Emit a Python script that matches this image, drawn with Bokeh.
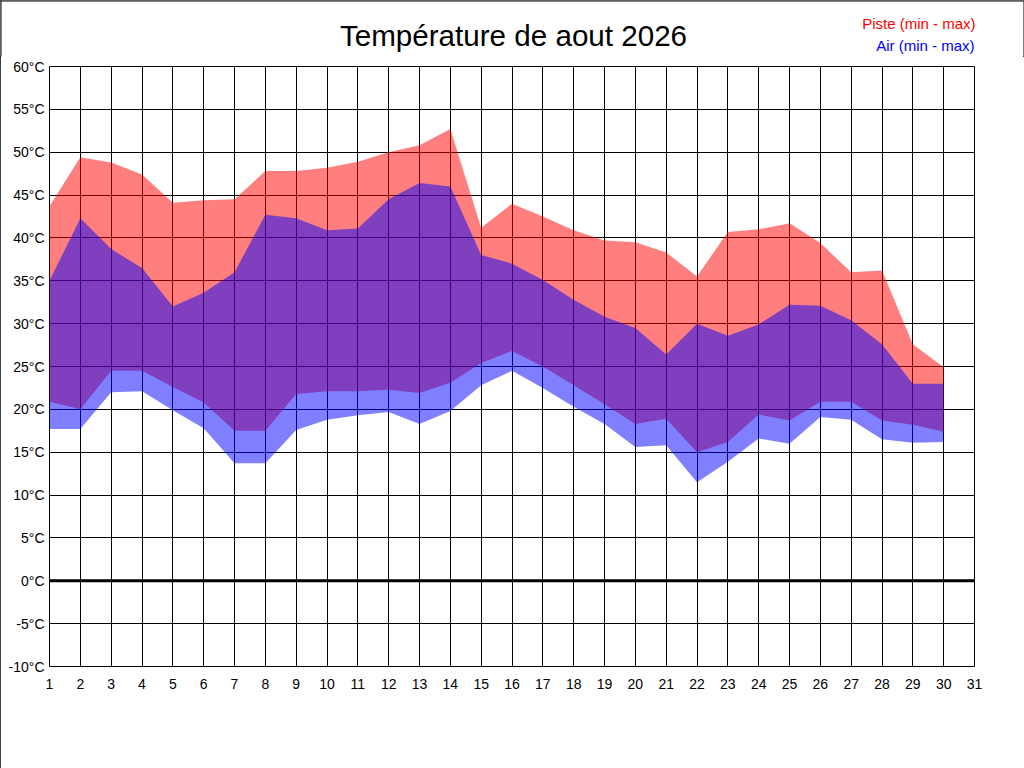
from bokeh.plotting import figure
from bokeh.models import Range1d, FixedTicker, Span
from bokeh.layouts import column
from bokeh.core.properties import value
from bokeh.embed import file_html
from bokeh.resources import INLINE

days = list(range(1, 31))
piste_max = [43.7, 49.4, 48.8, 47.4, 44.1, 44.4, 44.5, 47.8, 47.8, 48.2,
             48.9, 50.0, 50.8, 52.7, 41.2, 44.0, 42.5, 40.9, 39.7, 39.5,
             38.3, 35.5, 40.7, 41.0, 41.7, 39.4, 36.0, 36.2, 27.6, 24.9]
piste_min = [20.9, 20.0, 24.5, 24.5, 22.6, 20.8, 17.5, 17.5, 21.8, 22.1,
             22.1, 22.3, 21.9, 23.1, 25.4, 26.8, 25.0, 22.8, 20.6, 18.3,
             18.9, 15.0, 16.2, 19.4, 18.7, 20.9, 20.9, 18.7, 18.2, 17.4]
air_max = [35.0, 42.3, 38.7, 36.5, 32.0, 33.6, 36.0, 42.7, 42.3, 40.9,
           41.1, 44.5, 46.4, 46.0, 38.0, 37.0, 35.1, 32.8, 30.8, 29.5,
           26.4, 30.0, 28.6, 29.9, 32.2, 32.1, 30.4, 27.6, 23.0, 23.0]
air_min = [17.7, 17.7, 22.0, 22.1, 19.9, 17.8, 13.7, 13.7, 17.6, 18.8,
           19.3, 19.7, 18.3, 19.8, 22.8, 24.5, 22.5, 20.3, 18.3, 15.6,
           15.8, 11.5, 13.9, 16.6, 16.0, 19.1, 18.8, 16.5, 16.1, 16.2]

x_ticks = list(range(1, 32))
y_ticks = list(range(-10, 61, 5))
y_tick_labels = [f"{t}°C" for t in y_ticks]

title_text = "Température de aout 2026"
legend_piste = "Piste (min - max)"
legend_air = "Air (min - max)"

FONT = "Liberation Sans"
W, H, HEAD = 1024, 768, 56

# ---- header (title + legend texts) ----
head = figure(width=W, height=HEAD, output_backend="svg", toolbar_location=None,
              x_range=Range1d(0, W), y_range=Range1d(HEAD, 0),
              x_axis_type=None, y_axis_type=None,
              min_border_left=0, min_border_right=0, min_border_top=0,
              min_border_bottom=0)
head.frame_align = False
head.outline_line_color = None
head.background_fill_color = "white"
head.border_fill_color = "white"
# page border (top, left, right) inside the header
head.segment(x0=[0, 0.5, W - 0.5], y0=[0.5, 0, 0],
             x1=[W, 0.5, W - 0.5], y1=[0.5, HEAD, HEAD],
             line_color="black", line_width=1)
head.text(x=[513], y=[35], text=[title_text], text_align="center",
          text_baseline="middle", text_font=value(FONT),
          text_font_size=value("29.6px"), text_color="black")
head.text(x=[975], y=[23], text=[legend_piste], text_align="right",
          text_baseline="middle", text_font=value(FONT),
          text_font_size=value("15px"), text_color="#FF0000")
head.text(x=[974], y=[44.7], text=[legend_air], text_align="right",
          text_baseline="middle", text_font=value(FONT),
          text_font_size=value("15px"), text_color="#0000FF")

# ---- main chart ----
p = figure(width=W, height=H - HEAD, output_backend="svg", toolbar_location=None,
           x_range=Range1d(1, 31), y_range=Range1d(-10, 60),
           min_border_left=49, min_border_right=50, min_border_top=10,
           min_border_bottom=H - HEAD - 10 - 600)
p.frame_align = False
p.background_fill_color = "white"
p.border_fill_color = "white"
p.outline_line_color = "black"
p.outline_line_width = 1

p.xaxis.ticker = FixedTicker(ticks=x_ticks)
p.yaxis.ticker = FixedTicker(ticks=y_ticks)
p.yaxis.major_label_overrides = {t: l for t, l in zip(y_ticks, y_tick_labels)}
for ax in (p.xaxis, p.yaxis):
    ax.axis_line_color = None
    ax.major_tick_out = 0
    ax.major_tick_in = 0
    ax.minor_tick_out = 0
    ax.minor_tick_in = 0
    ax.major_label_text_font = FONT
    ax.major_label_text_font_size = "14px"
    ax.major_label_text_color = "black"
p.yaxis.major_label_standoff = 5
p.xaxis.major_label_standoff = 12

p.xgrid.ticker = FixedTicker(ticks=x_ticks)
p.ygrid.ticker = FixedTicker(ticks=y_ticks)
for g in (p.xgrid, p.ygrid):
    g.grid_line_color = "black"
    g.grid_line_alpha = 1.0
    g.grid_line_width = 1

p.varea(x=days, y1=piste_min, y2=piste_max, fill_color="#FF0000", fill_alpha=0.5)
p.varea(x=days, y1=air_min, y2=air_max, fill_color="#0000FF", fill_alpha=0.5)

p.add_layout(Span(location=0, dimension="width", line_color="black", line_width=3))

layout = column(head, p, spacing=0, width=W, height=H, sizing_mode="fixed")
layout.styles = {"outline": "1px solid black", "outline-offset": "-1px"}

open("out.html", "w").write(file_html(layout, INLINE))
